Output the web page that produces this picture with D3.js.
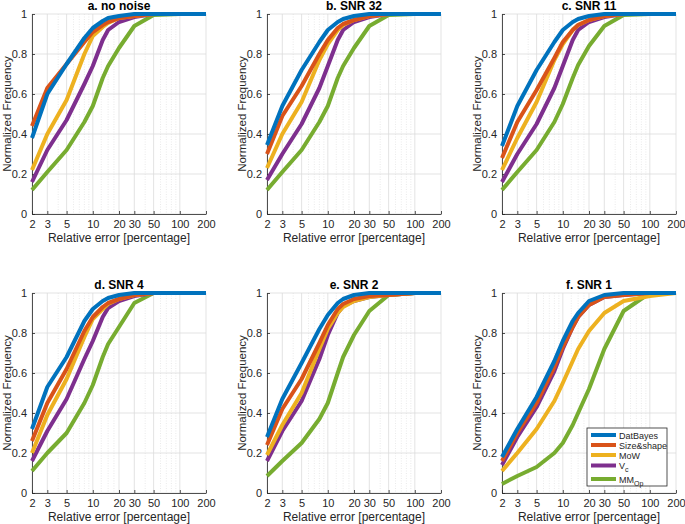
<!DOCTYPE html>
<html>
<head>
<meta charset="utf-8">
<script src="https://cdn.jsdelivr.net/npm/d3@7/dist/d3.min.js"></script>
<style>
  html, body { margin: 0; padding: 0; background: #fff; }
  svg { display: block; font-family: "Liberation Sans", Arial, sans-serif; }
</style>
</head>
<body>
<svg id="chart" width="685" height="524"></svg>
<script>
// ---------- data ----------
const xPoints = [2, 3, 5, 8, 10, 13, 15, 20, 30, 50, 100, 200];
const seriesNames = ["DatBayes", "Size&shape", "MoW", "Vc", "MMOp"];
const panelTitles = ["a. no noise", "b. SNR 32", "c. SNR 11", "d. SNR 4", "e. SNR 2", "f. SNR 1"];
const xTickValues = [2, 3, 5, 10, 20, 30, 50, 100, 200];
const xMinorValues = [4, 6, 7, 8, 9, 12.5, 15, 17.5, 40, 60, 70, 80, 90];
const yTickValues = [0, 0.2, 0.4, 0.6, 0.8, 1];

const panelA = [
  [0.38, 0.60, 0.75, 0.88, 0.93, 0.965, 0.98, 0.99, 1.0, 1.0, 1.0, 1.0],
  [0.44, 0.63, 0.75, 0.86, 0.91, 0.945, 0.96, 0.98, 0.99, 1.0, 1.0, 1.0],
  [0.22, 0.40, 0.57, 0.80, 0.89, 0.935, 0.955, 0.98, 0.99, 1.0, 1.0, 1.0],
  [0.16, 0.32, 0.47, 0.65, 0.74, 0.87, 0.92, 0.96, 0.985, 1.0, 1.0, 1.0],
  [0.12, 0.21, 0.32, 0.46, 0.54, 0.68, 0.74, 0.83, 0.94, 0.995, 1.0, 1.0]
];
const panelB = [
  [0.345, 0.54, 0.72, 0.86, 0.92, 0.96, 0.975, 0.99, 1.0, 1.0, 1.0, 1.0],
  [0.30, 0.49, 0.64, 0.80, 0.87, 0.93, 0.95, 0.97, 0.99, 1.0, 1.0, 1.0],
  [0.23, 0.40, 0.56, 0.77, 0.85, 0.92, 0.945, 0.97, 0.99, 1.0, 1.0, 1.0],
  [0.17, 0.30, 0.45, 0.63, 0.74, 0.87, 0.92, 0.96, 0.985, 1.0, 1.0, 1.0],
  [0.12, 0.21, 0.32, 0.46, 0.54, 0.68, 0.74, 0.83, 0.94, 0.995, 1.0, 1.0]
];
const panelC = [
  [0.34, 0.54, 0.72, 0.86, 0.92, 0.96, 0.975, 0.99, 1.0, 1.0, 1.0, 1.0],
  [0.28, 0.46, 0.62, 0.78, 0.86, 0.92, 0.945, 0.97, 0.99, 1.0, 1.0, 1.0],
  [0.22, 0.38, 0.56, 0.77, 0.85, 0.92, 0.945, 0.97, 0.99, 1.0, 1.0, 1.0],
  [0.16, 0.30, 0.45, 0.63, 0.74, 0.87, 0.92, 0.96, 0.985, 1.0, 1.0, 1.0],
  [0.12, 0.21, 0.32, 0.46, 0.55, 0.68, 0.745, 0.84, 0.94, 0.995, 1.0, 1.0]
];
const panelD = [
  [0.32, 0.53, 0.68, 0.86, 0.92, 0.96, 0.975, 0.99, 1.0, 1.0, 1.0, 1.0],
  [0.26, 0.45, 0.62, 0.81, 0.88, 0.93, 0.95, 0.97, 0.99, 1.0, 1.0, 1.0],
  [0.20, 0.39, 0.57, 0.78, 0.87, 0.92, 0.945, 0.97, 0.99, 1.0, 1.0, 1.0],
  [0.16, 0.31, 0.47, 0.67, 0.76, 0.88, 0.925, 0.96, 0.985, 1.0, 1.0, 1.0],
  [0.11, 0.20, 0.30, 0.45, 0.54, 0.68, 0.745, 0.83, 0.95, 1.0, 1.0, 1.0]
];
const panelE = [
  [0.28, 0.47, 0.65, 0.82, 0.89, 0.95, 0.97, 0.99, 1.0, 1.0, 1.0, 1.0],
  [0.24, 0.42, 0.57, 0.75, 0.84, 0.92, 0.945, 0.97, 0.985, 0.99, 1.0, 1.0],
  [0.19, 0.34, 0.50, 0.72, 0.82, 0.90, 0.93, 0.96, 0.98, 0.99, 1.0, 1.0],
  [0.16, 0.31, 0.46, 0.67, 0.79, 0.90, 0.935, 0.96, 0.98, 0.99, 1.0, 1.0],
  [0.085, 0.16, 0.25, 0.37, 0.45, 0.60, 0.68, 0.79, 0.91, 0.99, 1.0, 1.0]
];
const panelF = [
  [0.18, 0.32, 0.48, 0.66, 0.76, 0.86, 0.90, 0.96, 0.99, 1.0, 1.0, 1.0],
  [0.16, 0.30, 0.45, 0.63, 0.73, 0.83, 0.88, 0.94, 0.98, 0.99, 1.0, 1.0],
  [0.11, 0.20, 0.32, 0.46, 0.55, 0.66, 0.72, 0.81, 0.90, 0.96, 0.985, 1.0],
  [0.14, 0.28, 0.43, 0.61, 0.72, 0.83, 0.88, 0.94, 0.98, 0.99, 1.0, 1.0],
  [0.045, 0.085, 0.13, 0.20, 0.25, 0.34, 0.40, 0.52, 0.72, 0.91, 1.0, 1.0]
];
const panelData = [panelA, panelB, panelC, panelD, panelE, panelF];

// ---------- style / layout ----------
const colors = ["#0072BD", "#D95319", "#EDB120", "#7E2F8E", "#77AC30"];
const colLefts = [32, 267, 502];
const rowTops = [14, 293];
const plotW = 174, plotH = 200;
const axisColor = "#262626";
const fontFam = "Liberation Sans, Arial, sans-serif";

const svg = d3.select("#chart");

panelData.forEach((data, i) => {
  const col = i % 3, row = Math.floor(i / 3);
  const g = svg.append("g").attr("transform", `translate(${colLefts[col]},${rowTops[row]})`);
  const x = d3.scaleLog().domain([2, 200]).range([0, plotW]);
  const y = d3.scaleLinear().domain([0, 1]).range([plotH, 0]);

  // minor grid
  g.append("g").selectAll("line").data(xMinorValues).join("line")
    .attr("x1", d => x(d)).attr("x2", d => x(d))
    .attr("y1", 0).attr("y2", plotH)
    .attr("stroke", "#e4e4e4").attr("stroke-width", 0.8)
    .attr("stroke-dasharray", "1,1.5");
  // major grid
  g.append("g").selectAll("line").data(xTickValues).join("line")
    .attr("x1", d => x(d)).attr("x2", d => x(d))
    .attr("y1", 0).attr("y2", plotH)
    .attr("stroke", "#dcdcdc").attr("stroke-width", 0.8);
  g.append("g").selectAll("line").data(yTickValues).join("line")
    .attr("x1", 0).attr("x2", plotW)
    .attr("y1", d => y(d)).attr("y2", d => y(d))
    .attr("stroke", "#dcdcdc").attr("stroke-width", 0.8);

  // axes
  const xAxis = d3.axisBottom(x).tickValues(xTickValues).tickFormat(d3.format("d"))
    .tickSizeInner(-3).tickSizeOuter(0).tickPadding(6);
  const gx = g.append("g").attr("transform", `translate(0,${plotH})`).call(xAxis);
  const yAxis = d3.axisLeft(y).tickValues(yTickValues).tickFormat(d => d3.format("")(d))
    .tickSizeInner(-3).tickSizeOuter(0).tickPadding(5);
  const gy = g.append("g").call(yAxis);
  [gx, gy].forEach(a => {
    a.select(".domain").attr("stroke", axisColor).attr("stroke-width", 0.8);
    a.selectAll(".tick line").attr("stroke", axisColor).attr("stroke-width", 0.8);
    a.selectAll(".tick text").attr("fill", axisColor).attr("font-size", 11)
      .attr("font-family", fontFam);
  });

  // lines
  const line = d3.line().x((d, j) => x(xPoints[j])).y(d => y(d));
  data.slice().reverse().forEach((vals, k) => {
    const s = data.length - 1 - k;
    g.append("path").datum(vals).attr("d", line)
      .attr("fill", "none").attr("stroke", colors[s]).attr("stroke-width", 4)
      .attr("stroke-linejoin", "round");
  });

  // title
  g.append("text").attr("x", plotW / 2).attr("y", -4).attr("text-anchor", "middle")
    .attr("font-size", 12).attr("font-weight", "bold").attr("fill", "#000")
    .text(panelTitles[i]);
  // x label
  g.append("text").attr("x", plotW / 2).attr("y", plotH + 28).attr("text-anchor", "middle")
    .attr("font-size", 12).attr("fill", axisColor).text("Relative error [percentage]");
  // y label
  g.append("text").attr("transform", `translate(-21.5,${plotH / 2}) rotate(-90)`)
    .attr("text-anchor", "middle").attr("font-size", 11.5).attr("fill", axisColor)
    .text("Normalized Frequency");

  // legend in last panel
  if (i === 5) {
    const lg = g.append("g").attr("transform", "translate(85,135)");
    lg.append("rect").attr("x", 0).attr("y", 0).attr("width", 80).attr("height", 58)
      .attr("fill", "#fff").attr("stroke", axisColor).attr("stroke-width", 0.8);
    const rowsY = [7, 17, 27, 37.5, 51];
    seriesNames.forEach((name, s) => {
      lg.append("line").attr("x1", 4).attr("x2", 29).attr("y1", rowsY[s]).attr("y2", rowsY[s])
        .attr("stroke", colors[s]).attr("stroke-width", 4);
      const t = lg.append("text").attr("x", 32).attr("y", rowsY[s] + 3.5)
        .attr("font-size", 9).attr("fill", axisColor);
      if (name === "Vc") {
        t.append("tspan").text("V");
        t.append("tspan").attr("font-size", 7).attr("dy", 3).text("c");
      } else if (name === "MMOp") {
        t.append("tspan").text("MM");
        t.append("tspan").attr("font-size", 7).attr("dy", 3).text("Op");
      } else {
        t.text(name);
      }
    });
  }
});
</script>
</body>
</html>
